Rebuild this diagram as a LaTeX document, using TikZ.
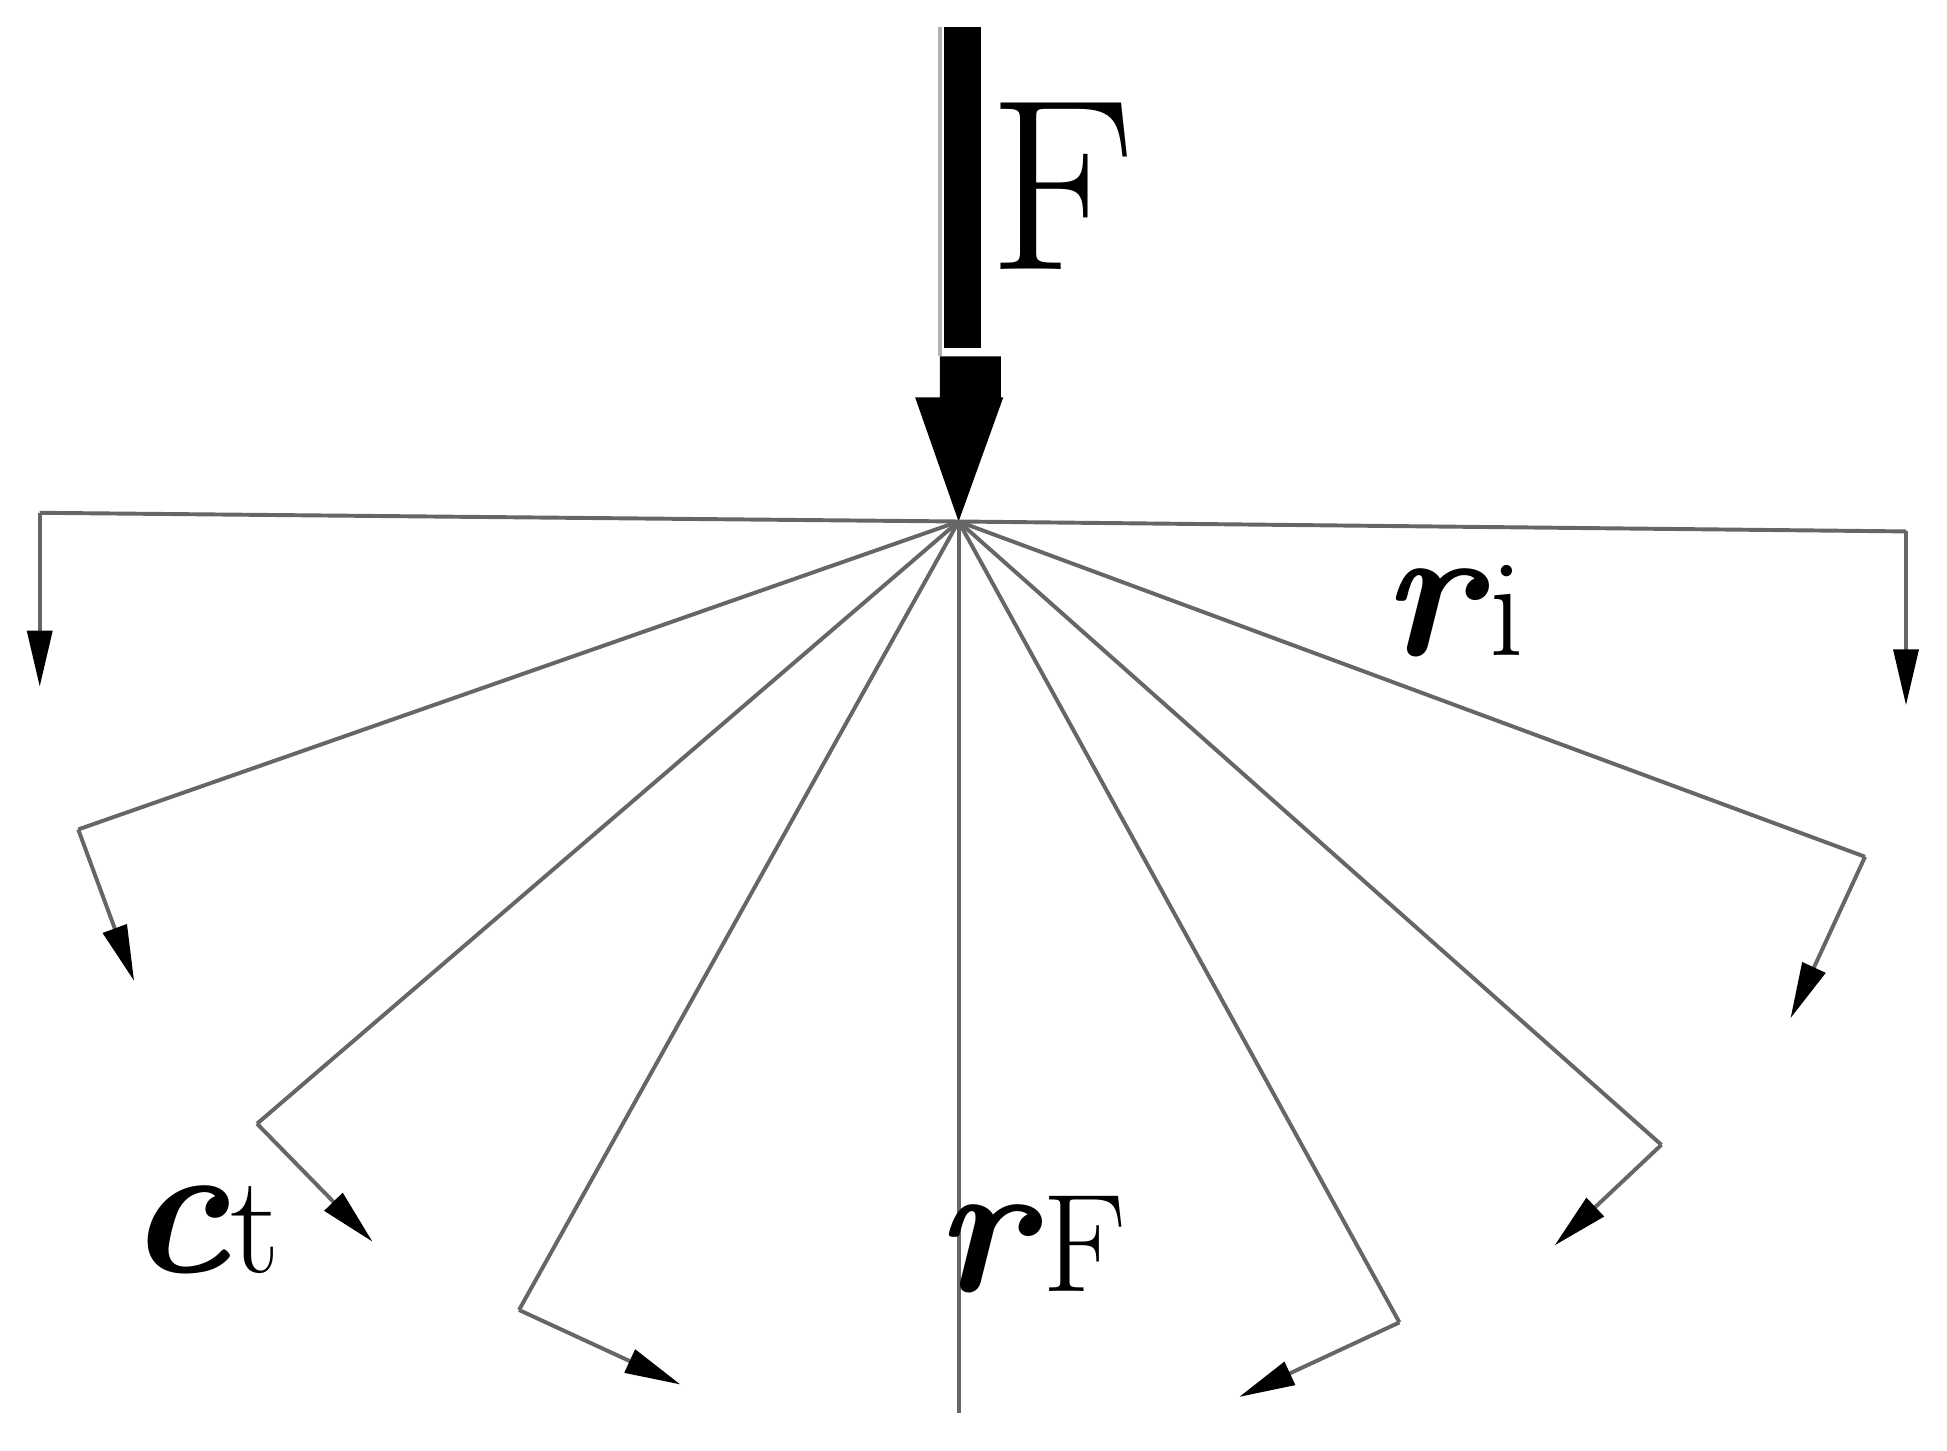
\documentclass[tikz,border=0pt]{standalone}
\usetikzlibrary{arrows.meta}
\begin{document}
\begin{tikzpicture}[x=0.01cm,y=-0.01cm,
  ray/.style={draw=gray!80!black,line width=0.9pt},
  arr/.style={ray,-{Triangle[length=0.45cm,width=0.2cm,fill=black,color=black]}},
  lab/.style={font=\fontsize{44}{44}\selectfont\bfseries, inner sep=0pt}]
\useasboundingbox (0,0) rectangle (1568,1168);
\coordinate (O) at (772,420);
% force arrow
\fill (760,22) rectangle (790,280);
\draw[gray!60,line width=0.8pt] (757,22) -- (757,287);
\fill (757,287) -- (806,287) -- (806,320) -- (808,320) -- (772,420) -- (737,320) -- (757,320) -- cycle;
\node[lab,font=\fontsize{56}{56}\selectfont] (F) at (855,150) {F};
% horizontal ends
\coordinate (L0) at (32,413); \coordinate (L0e) at (32,553);
\coordinate (R0) at (1535,428); \coordinate (R0e) at (1535,568);
\draw[ray] (O) -- (L0); \draw[arr] (L0) -- (L0e);
\draw[ray] (O) -- (R0); \draw[arr] (R0) -- (R0e);
% rays
\foreach \a/\b/\c/\d [count=\i] in {63/668/108/790, 207/905/300/1000, 418/1055/548/1115,
   1127/1065/998/1125, 1338/922/1252/1003, 1502/690/1442/820}{
  \coordinate (P\i) at (\a,\b); \coordinate (Q\i) at (\c,\d);
  \draw[ray] (O) -- (P\i); \draw[arr] (P\i) -- (Q\i);
}
\coordinate (B) at (772,1138);
\draw[ray] (O) -- (B);
% labels
\node[lab,anchor=base west] (ri) at (1112,528) {\textit{r}\fontsize{32}{32}\selectfont\mdseries i};
\node[lab,anchor=base west] (rF) at (752,1040) {\textit{r}\fontsize{32}{32}\selectfont\mdseries F};
\node[lab,anchor=base west] (ct) at (102,1025) {\textit{c}\fontsize{32}{32}\selectfont\mdseries t};
\end{tikzpicture}
\end{document}
